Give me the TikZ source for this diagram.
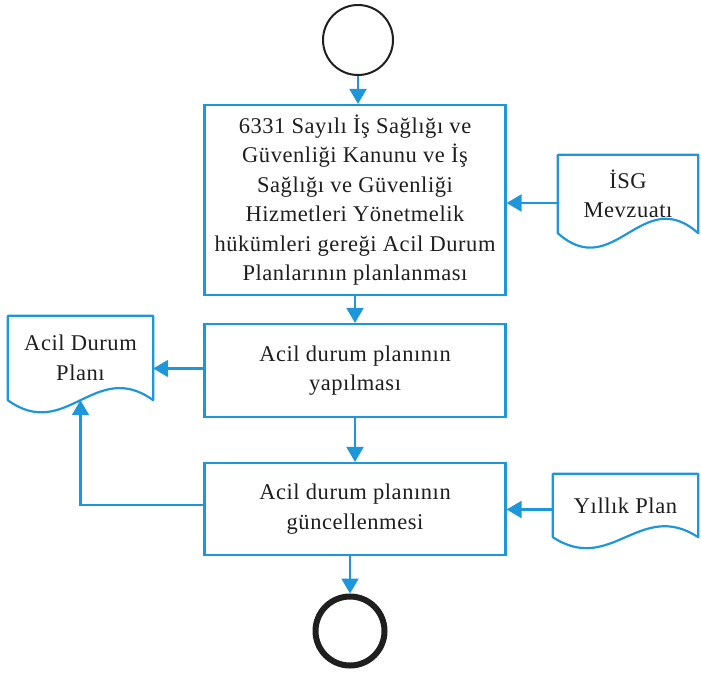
\documentclass[tikz,border=0pt]{standalone}
\usepackage{fontspec}
\setmainfont{Liberation Serif}[LetterSpace=2.5]
\usetikzlibrary{arrows.meta,calc}
\definecolor{flowblue}{RGB}{30,150,218}
\definecolor{txt}{RGB}{30,30,30}
\tikzset{
  bl/.style={draw=flowblue,line width=2.2pt},
  txtfont/.style={text=txt,font=\fontsize{22.5}{29.5}\selectfont},
  procbox/.style={bl,rectangle,minimum width=301pt,align=center,inner sep=0pt,txtfont},
  docbox/.style={rectangle,align=center,inner sep=0pt,txtfont},
  arr/.style={draw=flowblue,line width=2.2pt,-{Triangle[width=17pt,length=15pt]}},
}
\newcommand\docdraw[2]{%
  \draw[bl,line join=round] (#1.south west) -- (#1.north west) -- (#1.north east) -- (#1.south east)
    .. controls ($(#1.south east)!0.4!(#1.south west)+(0,-#2)$) and ($(#1.south east)!0.6!(#1.south west)+(0,#2)$) .. (#1.south west) -- cycle;}
\begin{document}
\begin{tikzpicture}[x=1pt,y=-1pt]
\useasboundingbox (0,0) rectangle (701,675);
% terminals
\node[circle,draw=black!88,line width=2pt,minimum size=70pt,inner sep=0pt] (start) at (358,40) {};
\node[circle,draw=black!88,line width=6pt,minimum size=69pt,inner sep=0pt] (end) at (350,631) {};
% process boxes
\node[procbox,minimum height=190pt] (box1) at (355,200) {6331 Sayılı İş Sağlığı ve\\Güvenliği Kanunu ve İş\\Sağlığı ve Güvenliği\\Hizmetleri Yönetmelik\\hükümleri gereği Acil Durum\\Planlarının planlanması};
\node[procbox,minimum height=93pt] (box2) at (355,370.5) {Acil durum planının\\yapılması};
\node[procbox,minimum height=92pt] (box3) at (355,509) {Acil durum planının\\güncellenmesi};
% documents
\node[docbox,minimum width=140pt,minimum height=78pt] (isg) at (628,194) {İSG\\Mevzuatı};
\docdraw{isg}{50}
\node[docbox,minimum width=145pt,minimum height=84pt] (acil) at (80.5,358) {Acil Durum\\Planı};
\docdraw{acil}{42}
\node[docbox,minimum width=145pt,minimum height=63pt] (yillik) at (625.5,505.5) {Yıllık Plan};
\docdraw{yillik}{38}
% connectors
\draw[arr] (start) -- (start |- box1.north);
\draw[arr] (box1.south) -- (box2.north);
\draw[arr] (box2.south) -- (box3.north);
\draw[arr] (box3.south -| end) -- (end);
\draw[arr] ([yshift=-9pt]isg.west) -- ([yshift=-9pt]isg.west -| box1.east);
\draw[arr] ([yshift=2pt]box2.west) -- ([yshift=2pt]box2.west -| acil.east);
\draw[arr] ([yshift=4pt]box3.west) -| (acil.south);
\draw[arr] ([yshift=-4pt]yillik.west) -- ([yshift=-4pt]yillik.west -| box3.east);
\end{tikzpicture}
\end{document}
